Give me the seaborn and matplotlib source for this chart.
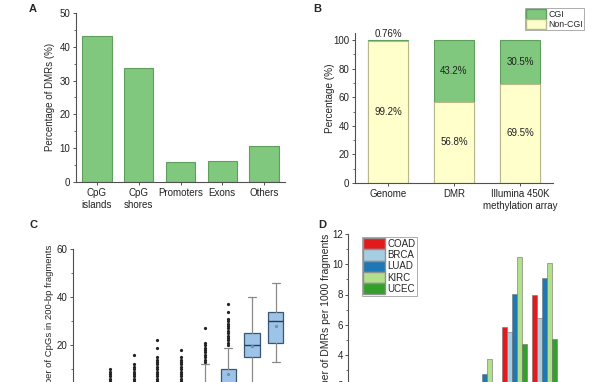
import matplotlib
matplotlib.use("Agg")
import matplotlib.pyplot as plt
from matplotlib.patches import Patch
from matplotlib.ticker import MultipleLocator
import seaborn as sns
import pandas as pd

sns.set_style("ticks")
plt.rcParams['font.family'] = ['Liberation Sans', 'DejaVu Sans']
plt.rcParams.update({
    "font.size": 7,
    "axes.edgecolor": "#505050",
    "axes.linewidth": 0.8,
    "xtick.color": "#505050",
    "ytick.color": "#505050",
    "xtick.labelcolor": "#222222",
    "ytick.labelcolor": "#222222",
    "xtick.major.size": 2.5,
    "ytick.major.size": 2.5,
    "xtick.minor.size": 1.5,
    "ytick.minor.size": 1.5,
    "xtick.major.pad": 1.8,
    "ytick.major.pad": 1.5,
    "xtick.major.width": 0.7,
    "ytick.major.width": 0.7,
    "ytick.minor.width": 0.6,
    "xtick.labelsize": 7,
    "ytick.labelsize": 7,
    "axes.labelsize": 7,
})

# Panel A - genomic regions
regions = ["CpG\nislands", "CpG\nshores", "Promoters", "Exons", "Others"]
region_pct = [43.2, 33.6, 5.9, 6.2, 10.8]

# Panel B - CGI vs non-CGI composition
sets = ["Genome", "DMR", "Illumina 450K\nmethylation array"]
cgi_pct = [0.76, 43.2, 30.5]
noncgi_pct = [99.24, 56.8, 69.5]
cgi_labels = ["0.76%", "43.2%", "30.5%"]
noncgi_labels = ["99.2%", "56.8%", "69.5%"]

# Panel C - CpG count per 200-bp fragment (box summaries per bin)
c_bins = ["1", "2", "3", "4", "5", "6", "7", "8", "9"]
c_q1 = [0, 0, 0, 1, 1, 1, 1, 15, 21]
c_med = [0, 1, 1, 2, 2, 2, 4, 20, 30]
c_q3 = [1, 2, 3, 3, 3, 4, 10, 25, 34]
c_whislo = [0, 0, 0, 0, 0, 0, 0, 2, 13]
c_whishi = [2, 4, 4, 4, 4, 12, 19, 40, 46]
c_mean = [0.5, 1.2, 1.8, 2.2, 2.4, 3.0, 8.0, 19.5, 28.0]
c_fliers = [
    [3, 4],
    [5, 6, 7, 8, 9, 10],
    [5, 6, 7, 8, 9, 10, 11, 12, 16],
    [5, 6, 7, 8, 9, 10, 11, 12, 13, 14, 15, 19, 22],
    [5, 6, 7, 8, 9, 10, 11, 12, 13, 14, 15, 18],
    [13, 14, 15, 16, 17, 18, 19, 20, 21, 27],
    [20, 21, 22, 23, 24, 25, 26, 27, 28, 29, 30, 31, 34, 37],
    [],
    [],
]

# Panel D - DMRs per 1000 fragments by cancer type
d_groups = ["1", "2", "3", "4", "5", "6", "7", "8"]
d_cancers = ["COAD", "BRCA", "LUAD", "KIRC", "UCEC"]
d_coad = [0.1, 0.1, 0.2, 0.3, 0.8, 5.84, 7.95, 0.6]
d_brca = [0.1, 0.1, 0.2, 0.3, 0.7, 5.5, 6.45, 0.5]
d_luad = [0.1, 0.2, 0.3, 0.6, 2.75, 8.05, 9.1, 0.7]
d_kirc = [0.1, 0.2, 0.4, 0.8, 3.72, 10.5, 10.05, 0.8]
d_ucec = [0.1, 0.1, 0.2, 0.3, 0.9, 4.75, 5.05, 0.4]

green = "#80c87e"
green_edge = "#5f9e5d"
yellow = "#ffffcc"
yellow_edge = "#b8b88c"
paired = {"COAD": "#e31a1c", "BRCA": "#a6cee3", "LUAD": "#1f78b4",
          "KIRC": "#b2df8a", "UCEC": "#33a02c"}

W, H = 611, 382
fig = plt.figure(figsize=(W / 100, H / 100), dpi=100)


def px_axes(left, top_px, right, zero_px, ylo, yhi, ytop):
    # axes box from pixel positions; y scale from value->pixel mapping
    scale = (zero_px - top_px) / (ytop - 0)
    top = zero_px - (yhi - 0) * scale
    bottom = zero_px - (ylo - 0) * scale
    return fig.add_axes([left / W, 1 - bottom / H, (right - left) / W, (bottom - top) / H])


# ---- A ----
axA = px_axes(76, 12.7, 285, 182.3, 0, 50, 50)
sns.barplot(x=regions, y=region_pct, color=green, edgecolor=green_edge,
            linewidth=0.8, width=0.7, saturation=1, ax=axA)
axA.set_ylim(0, 50)
axA.set_xlim(-0.5, 4.5)
axA.yaxis.set_major_locator(MultipleLocator(10))
axA.yaxis.set_minor_locator(MultipleLocator(5))
axA.set_ylabel("Percentage of DMRs (%)")
axA.yaxis.set_label_coords(-0.1, 0.506)
sns.despine(ax=axA)

# ---- B ----
axB = px_axes(355, 40, 553, 183, 0, 105, 100)
totals = [c + n for c, n in zip(cgi_pct, noncgi_pct)]
sns.barplot(x=sets, y=totals, color=green, edgecolor=green_edge,
            linewidth=0.8, width=0.6, saturation=1, ax=axB)
sns.barplot(x=sets, y=noncgi_pct, color=yellow, edgecolor=yellow_edge,
            linewidth=0.8, width=0.6, saturation=1, ax=axB)
axB.set_ylim(0, 105)
axB.set_xlim(-0.5, 2.5)
axB.yaxis.set_major_locator(MultipleLocator(20))
axB.yaxis.set_minor_locator(MultipleLocator(10))
axB.set_ylabel("Percentage (%)", fontsize=7.2)
axB.yaxis.set_label_coords(-0.101, 0.567)
for i in range(len(sets)):
    n = noncgi_pct[i]
    c = cgi_pct[i]
    axB.text(i, n / 2, noncgi_labels[i], ha="center", va="center", fontsize=7, color="#222222")
    if c < 5:
        axB.text(i, n + c + 0.8, cgi_labels[i], ha="center", va="bottom", fontsize=7, color="#222222")
    else:
        axB.text(i, n + c / 2, cgi_labels[i], ha="center", va="center", fontsize=7, color="#222222")
sns.despine(ax=axB)
legB = axB.legend(handles=[Patch(facecolor=green, edgecolor=green_edge, label="CGI"),
                           Patch(facecolor=yellow, edgecolor=yellow_edge, label="Non-CGI")],
                  loc="upper left", bbox_to_anchor=(525 / W, 1 - 8 / H),
                  bbox_transform=fig.transFigure, fontsize=6.3, frameon=True, fancybox=False,
                  borderpad=0.15, labelspacing=0.0, handlelength=2.2, handleheight=1.3,
                  handletextpad=0.3, borderaxespad=0)
legB.get_frame().set_edgecolor("#888888")
legB.get_frame().set_linewidth(0.6)

# ---- C ----
axC = px_axes(73, 249.3, 289, 393.3, 0, 60, 60)
stats = []
for i in range(len(c_bins)):
    stats.append({"label": c_bins[i], "q1": c_q1[i], "med": c_med[i], "q3": c_q3[i],
                  "whislo": c_whislo[i], "whishi": c_whishi[i], "mean": c_mean[i],
                  "fliers": c_fliers[i]})
axC.bxp(stats, positions=range(len(c_bins)), widths=0.65, capwidths=0.33,
        patch_artist=True, showmeans=True,
        boxprops=dict(facecolor="#9dc3e6", edgecolor="#3a5674", linewidth=0.9),
        medianprops=dict(color="#2a3f55", linewidth=1.0),
        whiskerprops=dict(color="#8a8a8a", linewidth=0.9),
        capprops=dict(color="#8a8a8a", linewidth=0.9),
        meanprops=dict(marker="o", markersize=1.3, markerfacecolor="#6f8fae", markeredgecolor="#6f8fae"),
        flierprops=dict(marker="o", markersize=1.3, markerfacecolor="#222222", markeredgecolor="#222222"))
axC.set_xlim(-0.56, 8.56)
axC.set_ylim(0, 60)
axC.set_xticklabels([])
axC.yaxis.set_major_locator(MultipleLocator(20))
axC.yaxis.set_minor_locator(MultipleLocator(10))
axC.set_ylabel("Number of CpGs in 200-bp fragments", fontsize=6.8)
axC.yaxis.set_label_coords(-0.088, 0.481)
sns.despine(ax=axC)

# ---- D ----
axD = px_axes(348.3, 234, 591, 415.5, 0, 12, 12)
rows = []
for cancer, vals in zip(d_cancers, [d_coad, d_brca, d_luad, d_kirc, d_ucec]):
    for g, v in zip(d_groups, vals):
        rows.append({"group": g, "cancer": cancer, "value": v})
dfD = pd.DataFrame(rows)
sns.barplot(data=dfD, x="group", y="value", hue="cancer", hue_order=d_cancers,
            palette=paired, width=0.83, saturation=1, edgecolor="#707070",
            linewidth=0.4, ax=axD)
axD.set_ylim(0, 12)
axD.set_xlim(-0.55, 7.55)
axD.set_xticklabels([])
axD.yaxis.set_major_locator(MultipleLocator(2))
axD.yaxis.set_minor_locator(MultipleLocator(1))
axD.set_ylabel("Number of DMRs per 1000 fragments", fontsize=7.5)
axD.yaxis.set_label_coords(-0.071, 0.526)
axD.set_xlabel("")
sns.despine(ax=axD)
legD = axD.legend(handles=[Patch(facecolor=paired[c], edgecolor="#909090", label=c) for c in d_cancers],
                  loc="upper left", bbox_to_anchor=(361.7 / W, 1 - 236.7 / H),
                  bbox_transform=fig.transFigure, fontsize=7, frameon=True, fancybox=False,
                  borderpad=0.15, labelspacing=0.0, handlelength=2.2, handleheight=1.4,
                  handletextpad=0.3, borderaxespad=0)
legD.get_frame().set_edgecolor("#888888")
legD.get_frame().set_linewidth(0.6)

for letter, (x, y) in zip("ABCD", [(33, 9), (317, 9), (33, 225), (322, 225)]):
    fig.text(x / W, 1 - y / H, letter, ha="center", va="center", fontsize=8, fontweight="bold")

fig.savefig("out.png", dpi=100)
